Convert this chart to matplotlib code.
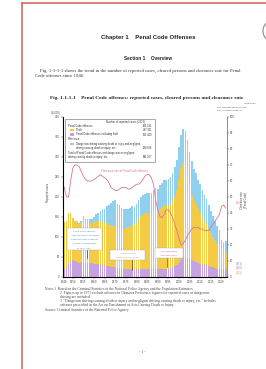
import numpy as np
import matplotlib
matplotlib.use("Agg")
import matplotlib.pyplot as plt
from matplotlib.patches import Rectangle, Circle

# --- data (10,000 cases; clearance rate in %) ---
years = list(range(1946, 2023))

# Penal Code offenses excluding theft (purple)
other = [20, 25, 35, 40, 42, 40, 38, 36, 36, 36, 35, 35, 35, 34, 33, 33, 32, 31, 30, 29,
         28, 27, 26, 25, 24, 23, 22, 21, 20, 20, 19, 19, 19, 18, 19, 20, 21, 21, 21, 21,
         20, 20, 20, 19, 19, 19, 20, 21, 21, 21, 22, 24, 27, 30, 36, 43, 48, 50, 48, 45,
         42, 39, 37, 34, 33, 31, 30, 29, 27, 26, 24, 23, 21, 20, 19.7, 19.3, 19.3]

# Theft (yellow)
theft = [118, 114, 125, 120, 105, 100, 101, 97, 100, 112, 104, 103, 101, 102, 105, 107, 106, 108, 108, 105,
         106, 102, 103, 102, 104, 100, 101, 98, 101, 103, 105, 108, 112, 111, 117, 126, 132, 134, 138, 140,
         138, 138, 144, 148, 145, 152, 154, 159, 157, 157, 159, 166, 176, 187, 208, 230, 237, 229, 208, 182,
         163, 152, 146, 136, 128, 117, 108, 102, 94, 84, 76, 69, 61, 55, 42, 38, 41]

# Dangerous / negligent driving causing death or injury, etc. (blue)
driving = [0, 0, 0, 0, 0.5, 1, 1.5, 2, 3, 4, 5, 6, 8, 10, 13, 17, 21, 26, 32, 36,
           43, 50, 56, 62, 64, 60, 57, 54, 48, 46, 46, 46, 47, 47, 47, 47, 48, 49, 49, 50,
           51, 52, 54, 55, 57, 59, 61, 63, 64, 66, 68, 70, 73, 76, 80, 83, 84, 86, 86, 86,
           84, 79, 76, 73, 72, 70, 68, 64, 60, 56, 52, 49, 45, 42, 31, 30, 29]

# Clearance rate of Penal Code offenses (pink line)
rate = [56, 50, 50, 60, 68, 70, 70, 69, 66, 63, 61, 60, 60, 60, 61, 62, 63, 64, 63, 62,
        61, 59, 56, 55, 54, 54, 55, 56, 56, 56, 55, 55, 56, 57, 58, 58, 59, 61, 63, 64,
        64, 62, 58, 48, 42, 38, 37, 39, 42, 42, 40, 37, 33, 29, 24, 20, 21, 23, 26, 28,
        30, 31, 31, 31, 30, 30, 29, 29, 29, 31, 33, 35, 37, 39, 44, 45, 43]

xtick_years = [1946, 1950, 1955, 1960, 1965, 1970, 1975, 1980, 1985, 1990, 1995,
               2000, 2005, 2010, 2015, 2020]

c_purple = "#c7a2e2"
c_yellow = "#f3cb45"
c_blue = "#90d0ee"
c_pink = "#d6759a"

W, H = 266, 369
fig = plt.figure(figsize=(W / 100, H / 100), dpi=100)
fig.patch.set_facecolor("white")

# chart axes (positions in pixels -> figure fraction)
x0, x1, y0, y1 = 63, 227, 117, 277
ax = fig.add_axes([x0 / W, 1 - y1 / H, (x1 - x0) / W, (y1 - y0) / H])
ax.set_facecolor("white")

o = np.array(other)
t = np.array(theft)
ax.bar(years, other, width=0.8, color=c_purple, linewidth=0)
ax.bar(years, theft, bottom=o, width=0.8, color=c_yellow, linewidth=0)
ax.bar(years, driving, bottom=o + t, width=0.8, color=c_blue, linewidth=0)

ax.set_xlim(1945.4, 2022.6)
ax.set_ylim(0, 400)
ax.set_yticks(range(0, 401, 50))
ax.set_xticks(xtick_years)
ax.tick_params(labelsize=1.9, length=1.2, width=0.3, pad=1, colors="#444444")
ax.spines["top"].set_visible(False)
for s in ["left", "right", "bottom"]:
    ax.spines[s].set_linewidth(0.4)
    ax.spines[s].set_color("#777777")

ax2 = ax.twinx()
ax2.plot(years, rate, color=c_pink, lw=0.6)
ax2.set_ylim(0, 100)
ax2.set_yticks(range(0, 101, 10))
ax2.tick_params(labelsize=1.9, length=1.2, width=0.3, pad=1, colors="#444444")
ax2.spines["top"].set_visible(False)
ax2.spines["right"].set_linewidth(0.4)
ax2.spines["right"].set_color("#777777")

# overlay in page pixels for all page text
pg = fig.add_axes([0, 0, 1, 1], zorder=10)
pg.set_xlim(0, W)
pg.set_ylim(H, 0)
pg.axis("off")
pg.patch.set_alpha(0)

# red page border and round mark
pg.plot([22, W], [3, 3], color="#d35c5c", lw=1.1)
pg.plot([22, 22], [3, H], color="#d35c5c", lw=1.1)
pg.add_patch(Circle((274, 31), 11, fill=False, ec="#888888", lw=0.8))

sans = "Liberation Sans"
serif = "Liberation Serif"

pg.text(148, 38, "Chapter 1    Penal Code Offenses", ha="center", va="center",
        fontsize=4.3, fontweight="bold", family=sans, color="#222222")
pg.text(148, 58, "Section 1    Overview", ha="center", va="center",
        fontsize=3.4, fontweight="bold", family=sans, color="#222222")
pg.text(40, 71, "Fig. 1-1-1-1 shows the trend in the number of reported cases, cleared persons and clearance rate for Penal",
        ha="left", va="center", fontsize=3.4, family=serif, color="#333333")
pg.text(35, 76, "Code offenses since 1946.", ha="left", va="center",
        fontsize=3.4, family=serif, color="#333333")
pg.text(147, 98, "Fig. 1-1-1-1    Penal Code offenses: reported cases, cleared persons and clearance rate",
        ha="center", va="center", fontsize=3.75, fontweight="bold", family=serif, color="#222222")

# axis units and labels
pg.text(56, 113, "(10,000)", ha="center", va="center", fontsize=1.8, family=sans, color="#444444")
pg.text(250, 103, "(1946-2022)", ha="center", va="center", fontsize=1.7, family=sans, color="#444444")
pg.text(217, 107, "Left: Reported cases (10,000)", ha="left", va="center", fontsize=1.6, family=sans, color="#444444")
pg.text(217, 110.5, "Right: Clearance rate (%)", ha="left", va="center", fontsize=1.6, family=sans, color="#444444")
pg.text(48, 192, "Reported cases", rotation=90, ha="center", va="center", fontsize=2.0, family=sans, color="#444444")
pg.text(242, 200, "Clearance rate", rotation=90, ha="center", va="center", fontsize=2.0, family=sans, color="#444444")
pg.text(246, 200, "(Penal Code)", rotation=90, ha="center", va="center", fontsize=2.0, family=sans, color="#444444")

# legend box
pg.add_patch(Rectangle((65, 119), 90, 43, fc="white", ec="#666666", lw=0.4))
lf = dict(fontsize=1.9, family=sans, color="#333333", va="center")
pg.text(125, 122, "Number of reported cases (2022)", ha="center", **lf)
pg.text(68, 126, "Penal Code offenses", ha="left", **lf)
pg.text(152, 126, "601,331", ha="right", **lf)
pg.add_patch(Rectangle((70, 128.7), 3.5, 2.6, fc=c_yellow, ec="none"))
pg.text(76, 130, "Theft", ha="left", **lf)
pg.text(152, 130, "407,911", ha="right", **lf)
pg.add_patch(Rectangle((70, 133.2), 3.5, 2.6, fc=c_purple, ec="none"))
pg.text(76, 134.5, "Penal Code offenses excluding theft", ha="left", **lf)
pg.text(152, 134.5, "193,420", ha="right", **lf)
pg.text(68, 139, "Reference:", ha="left", **lf)
pg.add_patch(Rectangle((70, 142.7), 3.5, 2.6, fc=c_blue, ec="none"))
pg.text(76, 144, "Dangerous driving causing death or injury and negligent", ha="left", **lf)
pg.text(76, 147.5, "driving causing death or injury, etc.", ha="left", **lf)
pg.text(152, 147.5, "289,696", ha="right", **lf)
pg.text(68, 153, "Total of Penal Code offenses and dangerous or negligent", ha="left", **lf)
pg.text(68, 157, "driving causing death or injury, etc.", ha="left", **lf)
pg.text(152, 157, "891,027", ha="right", **lf)

pg.text(124, 171, "Clearance rate of Penal Code offenses", ha="center", va="center",
        fontsize=2.0, family=sans, color=c_pink)

# boxed notes inside the chart
pg.add_patch(Rectangle((67, 228), 35, 22, fc="white", ec="#aaaaaa", lw=0.3))
for i, s in enumerate(["Penal Code offenses", "(reported cases excluding", "dangerous and negligent",
                       "driving causing death", "or injury, etc.)"]):
    pg.text(84.5, 231 + i * 4.2, s, ha="center", va="center", fontsize=1.7, family=sans, color="#4a86b8")
pg.plot([87, 87], [250, 258], color="#222222", lw=0.4)

pg.add_patch(Rectangle((110, 250), 35, 10, fc="white", ec="#aaaaaa", lw=0.3))
pg.text(127.5, 253, "Theft (reported", ha="center", va="center", fontsize=1.7, family=sans, color="#b9a02a")
pg.text(127.5, 257, "cases of Penal Code)", ha="center", va="center", fontsize=1.7, family=sans, color="#b9a02a")
pg.plot([132, 132], [260, 270], color="#222222", lw=0.4)

pg.add_patch(Rectangle((155, 248), 28, 10, fc="white", ec="#aaaaaa", lw=0.3))
pg.text(169, 251, "Excluding theft", ha="center", va="center", fontsize=1.7, family=sans, color="#c0609a")
pg.text(169, 255, "(reported cases)", ha="center", va="center", fontsize=1.7, family=sans, color="#c0609a")
pg.plot([167, 167], [258, 267], color="#222222", lw=0.4)

# end-of-series labels
pg.text(236, 203, "41.6", ha="left", va="center", fontsize=1.8, family=sans, color=c_pink)
pg.text(236, 264, "(60.1)", ha="left", va="center", fontsize=1.8, family=sans, color="#4a86b8")
pg.text(236, 268.5, "(40.8)", ha="left", va="center", fontsize=1.8, family=sans, color="#c0609a")
pg.text(236, 273, "(19.3)", ha="left", va="center", fontsize=1.8, family=sans, color="#b9a02a")

# notes under the chart
nf = dict(fontsize=2.6, family=serif, color="#444444", va="center", ha="left")
pg.text(45, 289, "Notes 1  Based on the Criminal Statistics of the National Police Agency and the Population Estimates.", **nf)
pg.text(60, 293, "2  Figures up to 1971 exclude offenses in Okinawa Prefecture; figures for reported cases of dangerous", **nf)
pg.text(60, 297, "driving are included.", **nf)
pg.text(60, 301, "3  \"Dangerous driving causing death or injury and negligent driving causing death or injury, etc.\" includes", **nf)
pg.text(60, 305, "offenses prescribed in the Act on Punishment of Acts Causing Death or Injury.", **nf)
pg.text(45, 310, "Source: Criminal Statistics of the National Police Agency", **nf)

pg.text(142, 352, "- 1 -", ha="center", va="center", fontsize=2.8, family=serif, color="#444444")

fig.savefig("out.png", dpi=100)
